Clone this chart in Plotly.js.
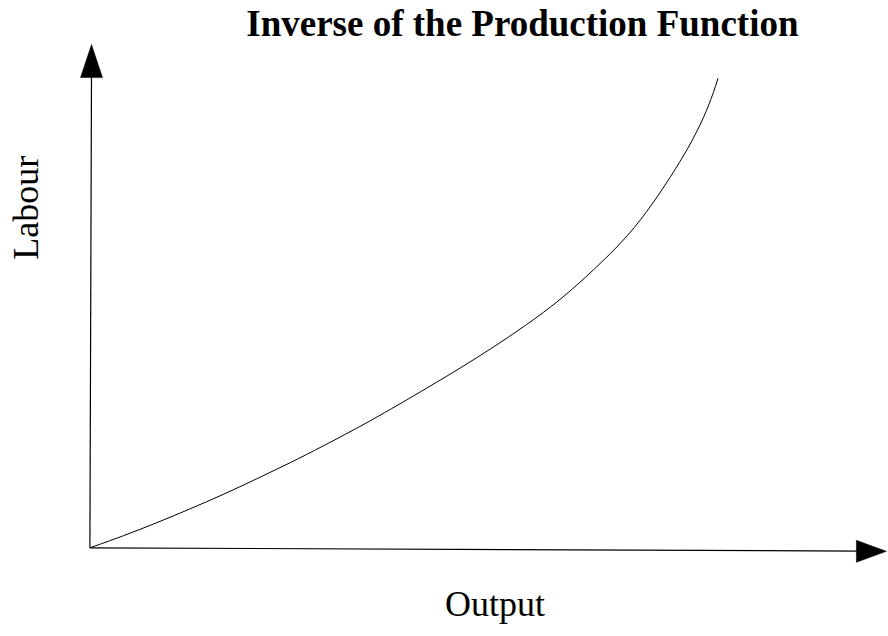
<!DOCTYPE html>
<html>
<head>
<meta charset="utf-8">
<script src="https://cdn.plot.ly/plotly-3.0.1.min.js"></script>
<style>html,body{margin:0;padding:0;background:#fff;}#chart{width:888px;height:636px;}</style>
</head>
<body>
<div id="chart"></div>
<script>
// Curve (arbitrary units)
var output = [0, 0.42, 0.84, 1.25, 1.67, 2.09, 2.51, 2.92, 3.51, 4.22, 4.64, 5.05, 5.47, 5.89, 6.31, 6.73, 7.06, 7.48, 7.69, 7.81, 7.87];
var labour = [0, 0.24, 0.50, 0.77, 1.06, 1.37, 1.69, 2.02, 2.52, 3.17, 3.57, 3.98, 4.43, 4.93, 5.52, 6.19, 6.86, 7.90, 8.55, 9.03, 9.32];

var titleText = "Inverse of the Production Function";
var xLabel = "Output";
var yLabel = "Labour";

var serif = "Liberation Serif, Times New Roman, serif";

var trace = {
  x: output, y: labour, type: "scatter", mode: "lines",
  line: {color: "#000", width: 1, shape: "spline", smoothing: 1},
  hoverinfo: "none", showlegend: false
};

var layout = {
  width: 888, height: 636,
  margin: {l: 50, r: 0, t: 34, b: 63},
  paper_bgcolor: "#fff", plot_bgcolor: "#fff",
  showlegend: false,
  title: {
    text: titleText,
    font: {family: serif, size: 37, color: "#000", weight: "bold"},
    xref: "container", yref: "container",
    x: 0.5883, y: 0.9632, xanchor: "center", yanchor: "middle"
  },
  xaxis: {range: [-0.5, 10], showgrid: false, zeroline: false, showline: false,
          showticklabels: false, ticks: "", fixedrange: true},
  yaxis: {range: [-0.5, 10.2], showgrid: false, zeroline: false, showline: false,
          showticklabels: false, ticks: "", fixedrange: true},
  shapes: [
    // y axis line and arrowhead
    {type: "line", xref: "x", yref: "y", x0: 0, y0: 0, x1: 0.02, y1: 9.4,
     line: {color: "#000", width: 1.2}},
    {type: "path", xref: "x", yref: "y", xsizemode: "pixel", ysizemode: "pixel",
     xanchor: 0.02, yanchor: 9.99, path: "M0,0 L-11,-33 L11,-33 Z",
     fillcolor: "#000", line: {color: "#000", width: 0.5}},
    // x axis line and arrowhead
    {type: "line", xref: "x", yref: "y", x0: 0, y0: 0, x1: 9.65, y1: -0.065,
     line: {color: "#000", width: 1.2}},
    {type: "path", xref: "x", yref: "y", xsizemode: "pixel", ysizemode: "pixel",
     xanchor: 9.98, yanchor: -0.07, path: "M0,0 L-30,11 L-30,-11 Z",
     fillcolor: "#000", line: {color: "#000", width: 0.5}}
  ],
  annotations: [
    {text: yLabel, xref: "paper", yref: "paper", x: -0.028, y: 0.677,
     xanchor: "center", yanchor: "middle", showarrow: false, textangle: -90,
     font: {family: serif, size: 36, color: "#000"}},
    {text: xLabel, xref: "paper", yref: "paper", x: 0.531, y: -0.0577,
     xanchor: "center", yanchor: "middle", showarrow: false,
     font: {family: serif, size: 36, color: "#000"}}
  ]
};

Plotly.newPlot("chart", [trace], layout, {displayModeBar: false, staticPlot: true});
</script>
</body>
</html>
